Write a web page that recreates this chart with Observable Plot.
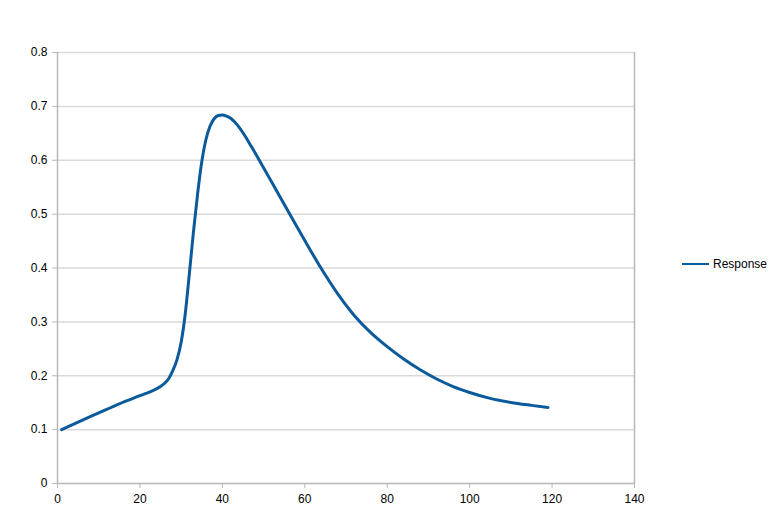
<!DOCTYPE html>
<html>
<head>
<meta charset="utf-8">
<script src="https://cdn.jsdelivr.net/npm/d3@7"></script>
<script src="https://cdn.jsdelivr.net/npm/@observablehq/plot@0.6"></script>
<style>
  body { margin: 0; background: #fff; }
  #wrap { position: relative; width: 777px; height: 526px; }
  #legend { position: absolute; left: 682px; top: 257px; display: flex; align-items: center;
    font-family: "Liberation Sans", Arial, sans-serif; font-size: 12px; color: #000; }
  #legend .sw { width: 27px; height: 0; border-top: 2px solid #0a5a9c; margin-right: 4px; }
</style>
</head>
<body>
<div id="wrap"><div id="legend"><span class="sw"></span><span id="legtxt"></span></div></div>
<script>
const seriesName = "Response";
const xs = [1, 5, 10, 15, 20, 23, 25, 26, 27, 28, 29, 30, 31, 32, 33, 34, 35, 36, 37, 38, 39, 40, 41, 42, 43, 44, 45, 46, 47, 48, 50, 52, 56, 60, 64, 68, 72, 76, 80, 84, 88, 92, 96, 100, 105, 110, 115, 119];
const ys = [0.100, 0.114, 0.131, 0.148, 0.163, 0.172, 0.180, 0.186, 0.195, 0.210, 0.230, 0.262, 0.315, 0.390, 0.468, 0.538, 0.597, 0.638, 0.663, 0.677, 0.683, 0.684, 0.682, 0.678, 0.671, 0.662, 0.651, 0.639, 0.626, 0.613, 0.586, 0.559, 0.505, 0.451, 0.399, 0.352, 0.312, 0.280, 0.254, 0.231, 0.211, 0.194, 0.180, 0.169, 0.158, 0.1505, 0.145, 0.141];
const xTicks = [0, 20, 40, 60, 80, 100, 120, 140];
const yTicks = [0, 0.1, 0.2, 0.3, 0.4, 0.5, 0.6, 0.7, 0.8];

const data = xs.map((x, i) => ({x, y: ys[i]}));
const lineColor = "#0a5a9c";
const gridColor = "#d9d9d9";
const axisColor = "#b8b8b8";

const chart = Plot.plot({
  width: 777,
  height: 526,
  marginTop: 52,
  marginBottom: 43,
  marginLeft: 57,
  marginRight: 143,
  style: {fontFamily: "'Liberation Sans', Arial, sans-serif", fontSize: "12px", color: "#000", background: "#fff"},
  x: {domain: [0, 140]},
  y: {domain: [0, 0.8]},
  marks: [
    Plot.gridY(yTicks.filter(d => d > 0), {stroke: gridColor, strokeOpacity: 1, strokeWidth: 1.5}),
    Plot.ruleY([0], {stroke: axisColor, strokeWidth: 1.5}),
    Plot.ruleX([0, 140], {stroke: axisColor, strokeWidth: 1.5}),
    Plot.axisX({ticks: xTicks, tickSize: 5, tickPadding: 6, stroke: axisColor, fill: "#000", tickFormat: d => String(d), label: null}),
    Plot.axisY({ticks: yTicks, tickSize: 5, tickPadding: 5, stroke: axisColor, fill: "#000", tickFormat: d => String(+d.toFixed(1)), label: null}),
    Plot.line(data, {x: "x", y: "y", stroke: lineColor, strokeWidth: 3, curve: "monotone-x"})
  ]
});
document.getElementById("wrap").prepend(chart);
document.getElementById("legtxt").textContent = seriesName;
</script>
</body>
</html>
